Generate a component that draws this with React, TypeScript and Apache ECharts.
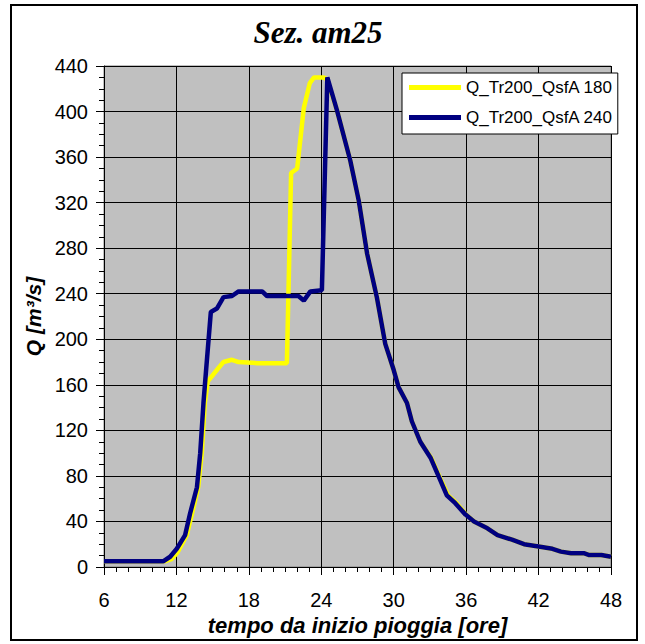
import React, { useEffect, useRef } from "react";
import * as echarts from "echarts";

const title = "Sez. am25";
const xName = "tempo da inizio pioggia [ore]";
const yName = "Q [m³/s]";
const seriesNames = ["Q_Tr200_QsfA 180", "Q_Tr200_QsfA 240"];

// Q_Tr200_QsfA 180 (yellow)
const t180 = [6, 11, 11.6, 12.1, 12.85, 13.25, 13.8, 14.1, 14.35, 14.6, 15.5, 15.9, 16.6, 17.15, 18.7, 21.15, 21.5, 22.0, 22.55, 23.05, 23.4, 24.2, 24.5, 25.3, 26.4, 27.1, 27.8, 28.6, 29.3, 30.0, 30.4, 31.1, 31.5, 32.2, 33.1, 33.8, 34.5, 35.2, 36.0, 36.65, 37.76, 38.6, 39.8, 40.8, 42, 43.15, 43.85, 44.7, 45.8, 46.2, 47.2, 48];
const q180 = [5, 5, 7, 13, 28, 45, 70, 100, 144, 163, 175, 180, 182, 180, 179, 179, 346, 350, 403, 425, 430, 430, 428, 401, 357, 322, 275, 237, 196, 173, 158, 144, 128, 110, 96, 79, 63, 56, 46, 40, 34, 28, 24, 20, 18, 16, 13.5, 12, 12, 10.5, 10.5, 9];

// Q_Tr200_QsfA 240 (navy)
const t240 = [6, 10.9, 11.48, 12.03, 12.72, 13.13, 13.7, 13.97, 14.24, 14.45, 14.85, 15.35, 15.9, 16.6, 17.15, 19.1, 19.5, 22.1, 22.55, 23.1, 24.05, 24.5, 25.3, 26.4, 27.1, 27.8, 28.6, 29.3, 30.0, 30.4, 31.1, 31.5, 32.2, 33.05, 33.75, 34.4, 35.1, 35.95, 36.65, 37.76, 38.6, 39.8, 40.8, 42, 43.15, 43.85, 44.7, 45.8, 46.2, 47.2, 48];
const q240 = [5, 5, 9, 16, 28, 47, 70, 100, 144, 172, 224, 227, 237, 238, 242, 242, 238, 238, 234, 242, 243, 430, 401, 357, 322, 275, 237, 196, 173, 158, 144, 128, 110, 96, 79, 63, 56, 46, 40, 34, 28, 24, 20, 18, 16, 13.5, 12, 12, 10.5, 10.5, 9];

const xTicks = [6, 12, 18, 24, 30, 36, 42, 48];
const yTicks = [0, 40, 80, 120, 160, 200, 240, 280, 320, 360, 400, 440];

const pairs = (t: number[], q: number[]) => t.map((v, i) => [v, q[i]]);

export default function App() {
  const ref = useRef<HTMLDivElement>(null);
  useEffect(() => {
    if (!ref.current) return;
    const chart = echarts.init(ref.current, undefined, { renderer: "svg" });
    const font = "'Liberation Sans', Arial, sans-serif";
    chart.setOption({
      animation: false,
      backgroundColor: "#ffffff",
      graphic: [
        {
          type: "rect",
          shape: { x: 11, y: 5, width: 626, height: 635 },
          style: { fill: "none", stroke: "#000", lineWidth: 2 },
          z: 100,
        },
        {
          type: "text",
          x: 318,
          y: 17,
          style: {
            text: title,
            fontFamily: "'Liberation Serif', 'Times New Roman', serif",
            fontWeight: "bold",
            fontStyle: "italic",
            fontSize: 31,
            fill: "#000",
            align: "center",
            verticalAlign: "top",
          },
        },
      ],
      grid: {
        left: 104,
        right: 34,
        top: 66,
        bottom: 77,
        show: true,
        backgroundColor: "#c0c0c0",
        borderColor: "#808080",
        borderWidth: 1,
      },
      legend: {
        orient: "vertical",
        left: 402,
        top: 73,
        padding: [6, 5, 8, 7],
        itemWidth: 52,
        itemHeight: 5,
        itemGap: 13,
        icon: "rect",
        backgroundColor: "#fff",
        borderColor: "#000",
        borderWidth: 1,
        textStyle: { fontFamily: font, fontSize: 17, color: "#000" },
        data: seriesNames,
      },
      xAxis: {
        type: "value",
        min: xTicks[0],
        max: xTicks[xTicks.length - 1],
        interval: 6,
        name: xName,
        nameLocation: "middle",
        nameGap: 41,
        nameTextStyle: { fontFamily: font, fontSize: 22, fontWeight: "bold", fontStyle: "italic", color: "#000" },
        axisLine: { show: true, lineStyle: { color: "#000", width: 1 } },
        axisTick: { show: true, length: 8, lineStyle: { color: "#000" } },
        minorTick: { show: true, splitNumber: 6, length: 5, lineStyle: { color: "#000" } },
        axisLabel: { fontFamily: font, fontSize: 20, color: "#000", margin: 23 },
        splitLine: { show: true, lineStyle: { color: "#000", width: 1 } },
      },
      yAxis: {
        type: "value",
        min: yTicks[0],
        max: yTicks[yTicks.length - 1],
        interval: 40,
        name: yName,
        nameLocation: "middle",
        nameGap: 60,
        nameTextStyle: { fontFamily: font, fontSize: 21, fontWeight: "bold", fontStyle: "italic", color: "#000" },
        axisLine: { show: true, lineStyle: { color: "#000", width: 1 } },
        axisTick: { show: true, length: 8, lineStyle: { color: "#000" } },
        minorTick: { show: true, splitNumber: 4, length: 5, lineStyle: { color: "#000" } },
        axisLabel: { fontFamily: font, fontSize: 20, color: "#000", margin: 16 },
        splitLine: { show: true, lineStyle: { color: "#000", width: 1 } },
      },
      series: [
        {
          name: seriesNames[0],
          type: "line",
          data: pairs(t180, q180),
          showSymbol: false,
          symbol: "none",
          color: "#ffff00",
          lineStyle: { color: "#ffff00", width: 4.5 },
          z: 2,
        },
        {
          name: seriesNames[1],
          type: "line",
          data: pairs(t240, q240),
          showSymbol: false,
          symbol: "none",
          color: "#000080",
          lineStyle: { color: "#000080", width: 4.5 },
          z: 3,
        },
      ],
    });
    return () => chart.dispose();
  }, []);
  return (
    <div
      ref={ref}
      style={{ position: "absolute", left: 0, top: 0, width: 645, height: 644 }}
    />
  );
}
